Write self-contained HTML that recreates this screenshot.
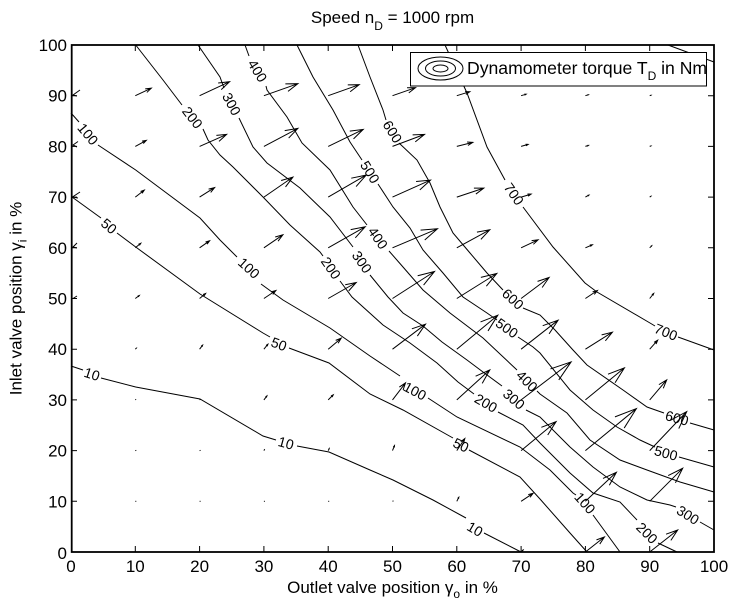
<!DOCTYPE html>
<html><head><meta charset="utf-8"><style>
html,body{margin:0;padding:0;background:#fff;}
svg{display:block;}
text{font-family:"Liberation Sans",Arial,sans-serif;fill:#000;}
</style></head><body>
<svg width="734" height="606" viewBox="0 0 734 606" xmlns="http://www.w3.org/2000/svg">
<rect x="0" y="0" width="734" height="606" fill="#fff"/>

<!-- Title -->
<text x="392.5" y="23" font-size="17" text-anchor="middle">Speed n<tspan font-size="12" dy="7">D</tspan><tspan dy="-7"> = 1000 rpm</tspan></text>

<!-- Contours -->
<g fill="none" stroke="#000" stroke-width="1">
<!-- 10 -->
<polyline points="71,366 83,370"/>
<polyline points="101,378 135.7,387 200,399 263,436 276,440"/>
<polyline points="297,446 329,452 370,470 393,480 433,500 466,518"/>
<polyline points="484,533 521,552"/>
<!-- 50 -->
<polyline points="72,197 101,218"/>
<polyline points="117,233 135.7,247 200,294 263,333 270,337"/>
<polyline points="289,348 329,363 370,394 403,410 453,438"/>
<polyline points="469,450 520,477 540,499 570,533 587,552"/>
<!-- 100 -->
<polyline points="71,113 79,122"/>
<polyline points="98,145 135.7,170 200,218 220,240 237,257"/>
<polyline points="261,284 283,300 330,328 370,356 400,376"/>
<polyline points="428,398 457,417 520,447 550,470 573,493 576,495"/>
<polyline points="593,515 620,552"/>
<!-- 200 -->
<polyline points="135.7,45 163,80 182,105"/>
<polyline points="203,129 208,140 220,155 233,167 263,197 290,225 320,252 323,256"/>
<polyline points="340,281 352,297 383,325 410,343 437,363 458,382 474,394"/>
<polyline points="498,412 523,425 540,443 570,473 593,493 620,502 637,520"/>
<polyline points="658,543 677,552"/>
<!-- 300 -->
<polyline points="198,45 220,77 224,88"/>
<polyline points="239,118 253,147 267,163 300,188 330,217 353,247"/>
<polyline points="370,275 388,297 403,313 423,326 442,342 467,360 483,372 502,386"/>
<polyline points="526,410 540,417 570,447 593,467 620,487 647,500 670,505 676,507"/>
<polyline points="700,522 714,530"/>
<!-- 400 -->
<polyline points="245,45 249,56"/>
<polyline points="266,86 267,90 287,117 302,143 330,170 353,207 367,225"/>
<polyline points="389,251 403,267 423,290 450,313 483,338 517,370"/>
<polyline points="537,391 540,394 567,413 590,440 620,460 647,470 680,482 714,492"/>
<!-- 500 -->
<polyline points="297,45 313,77 333,110 350,142 362,160"/>
<polyline points="378,184 393,207 410,228 423,250 443,273 463,297 487,313 497,320"/>
<polyline points="518,337 533,347 540,353 570,390 593,410 617,427 640,440 655,447"/>
<polyline points="679,457 714,467"/>
<!-- 600 -->
<polyline points="358,45 370,77 383,110 386,120"/>
<polyline points="399,143 417,160 430,183 440,207 453,233 470,253 487,273 503,290"/>
<polyline points="523,308 540,315 555,330 573,350 587,365 623,390 647,407 664,413"/>
<polyline points="690,423 714,430"/>
<!-- 700 -->
<polyline points="445,45 467,93 487,147 505,180"/>
<polyline points="523,207 553,247 585,283 597,292 650,323 655,326"/>
<polyline points="678,337 714,350"/>
<!-- 800 -->
<polyline points="668,45 714,62"/>
</g>

<!-- Contour labels -->
<g font-size="14" text-anchor="middle">
<text x="92" y="379" transform="rotate(18 92 374)">10</text>
<text x="286" y="448" transform="rotate(15 286 443)">10</text>
<text x="475" y="534" transform="rotate(30 475 529)">10</text>
<text x="109" y="231" transform="rotate(40 109 226)">50</text>
<text x="279" y="349" transform="rotate(20 279 344)">50</text>
<text x="461" y="450" transform="rotate(25 461 445)">50</text>
<text x="88" y="139" transform="rotate(50 88 134)">100</text>
<text x="249" y="273" transform="rotate(42 249 268)">100</text>
<text x="415" y="396" transform="rotate(28 415 391)">100</text>
<text x="585" y="508" transform="rotate(48 585 503)">100</text>
<text x="192.5" y="122.5" transform="rotate(52 192.5 117.5)">200</text>
<text x="331" y="273" transform="rotate(55 331 268)">200</text>
<text x="486" y="408" transform="rotate(30 486 403)">200</text>
<text x="647" y="538" transform="rotate(45 647 533)">200</text>
<text x="231.7" y="109" transform="rotate(62 231.7 104)">300</text>
<text x="362" y="267" transform="rotate(55 362 262)">300</text>
<text x="514" y="404" transform="rotate(40 514 399)">300</text>
<text x="688" y="520" transform="rotate(32 688 515)">300</text>
<text x="257.5" y="75.8" transform="rotate(58 257.5 70.8)">400</text>
<text x="378" y="243" transform="rotate(55 378 238)">400</text>
<text x="527" y="386" transform="rotate(45 527 381)">400</text>
<text x="370" y="177" transform="rotate(58 370 172)">500</text>
<text x="507" y="333" transform="rotate(35 507 328)">500</text>
<text x="666" y="458" transform="rotate(15 666 453)">500</text>
<text x="392.5" y="136.7" transform="rotate(58 392.5 131.7)">600</text>
<text x="513" y="304" transform="rotate(42 513 299)">600</text>
<text x="677" y="423" transform="rotate(15 677 418)">600</text>
<text x="514" y="199" transform="rotate(55 514 194)">700</text>
<text x="666" y="337" transform="rotate(22 666 332)">700</text>
</g>

<!-- Quiver arrows -->
<g fill="none" stroke="#000" stroke-width="1">
<path d="M80,90 L73,95 L77,96"/>
<path d="M78,141.5 L73,145 L77,147"/>
<path d="M80,192 L72.5,197 L78,198"/>
<path d="M77,243 L73,247 L77,248"/>
<path d="M77,296 L73,298.5"/>
</g>
<g fill="none" stroke="#000" stroke-width="1">
<!-- row 90 -->
<path vector-effect="non-scaling-stroke" transform="matrix(16 -7.5 7.5 16 135.3 95.7)" d="M0,0L1,0M0.67,-0.11L1,0L0.67,0.11"/>
<path vector-effect="non-scaling-stroke" transform="matrix(30 -14 14 30 199.6 95.7)" d="M0,0L1,0M0.67,-0.11L1,0L0.67,0.11"/>
<path vector-effect="non-scaling-stroke" transform="matrix(34 -12 12 34 263.9 95.7)" d="M0,0L1,0M0.67,-0.11L1,0L0.67,0.11"/>
<path vector-effect="non-scaling-stroke" transform="matrix(31 -11 11 31 328.2 95.7)" d="M0,0L1,0M0.67,-0.11L1,0L0.67,0.11"/>
<path vector-effect="non-scaling-stroke" transform="matrix(23 -8 8 23 392.5 95.7)" d="M0,0L1,0M0.67,-0.11L1,0L0.67,0.11"/>
<path vector-effect="non-scaling-stroke" transform="matrix(13 -4 4 13 456.8 95.7)" d="M0,0L1,0M0.67,-0.11L1,0L0.67,0.11"/>
<path vector-effect="non-scaling-stroke" transform="matrix(5 -1.5 1.5 5 521.1 95.7)" d="M0,0L1,0M0.67,-0.11L1,0L0.67,0.11"/>
<path vector-effect="non-scaling-stroke" transform="matrix(3 -1 1 3 585.4 95.7)" d="M0,0L1,0M0.67,-0.11L1,0L0.67,0.11"/>
<path vector-effect="non-scaling-stroke" transform="matrix(1.2 -0.4 0.4 1.2 649.7 95.7)" d="M0,0L1,0M0.67,-0.11L1,0L0.67,0.11"/>
<!-- row 80 -->
<path vector-effect="non-scaling-stroke" transform="matrix(11 -6 6 11 135.3 146.4)" d="M0,0L1,0M0.67,-0.11L1,0L0.67,0.11"/>
<path vector-effect="non-scaling-stroke" transform="matrix(27 -12 12 27 199.6 146.4)" d="M0,0L1,0M0.67,-0.11L1,0L0.67,0.11"/>
<path vector-effect="non-scaling-stroke" transform="matrix(34 -18 18 34 263.9 146.4)" d="M0,0L1,0M0.67,-0.11L1,0L0.67,0.11"/>
<path vector-effect="non-scaling-stroke" transform="matrix(35 -17 17 35 328.2 146.4)" d="M0,0L1,0M0.67,-0.11L1,0L0.67,0.11"/>
<path vector-effect="non-scaling-stroke" transform="matrix(32 -12 12 32 392.5 146.4)" d="M0,0L1,0M0.67,-0.11L1,0L0.67,0.11"/>
<path vector-effect="non-scaling-stroke" transform="matrix(16 -4 4 16 456.8 146.4)" d="M0,0L1,0M0.67,-0.11L1,0L0.67,0.11"/>
<path vector-effect="non-scaling-stroke" transform="matrix(7 -2 2 7 521.1 146.4)" d="M0,0L1,0M0.67,-0.11L1,0L0.67,0.11"/>
<path vector-effect="non-scaling-stroke" transform="matrix(3 -1 1 3 585.4 146.4)" d="M0,0L1,0M0.67,-0.11L1,0L0.67,0.11"/>
<path vector-effect="non-scaling-stroke" transform="matrix(1.2 -0.4 0.4 1.2 649.7 146.4)" d="M0,0L1,0M0.67,-0.11L1,0L0.67,0.11"/>
<!-- row 70 -->
<path vector-effect="non-scaling-stroke" transform="matrix(9 -7 7 9 135.3 197.1)" d="M0,0L1,0M0.67,-0.11L1,0L0.67,0.11"/>
<path vector-effect="non-scaling-stroke" transform="matrix(15 -9.5 9.5 15 199.6 197.1)" d="M0,0L1,0M0.67,-0.11L1,0L0.67,0.11"/>
<path vector-effect="non-scaling-stroke" transform="matrix(29 -20 20 29 263.9 197.1)" d="M0,0L1,0M0.67,-0.11L1,0L0.67,0.11"/>
<path vector-effect="non-scaling-stroke" transform="matrix(38 -22 22 38 328.2 197.1)" d="M0,0L1,0M0.67,-0.11L1,0L0.67,0.11"/>
<path vector-effect="non-scaling-stroke" transform="matrix(38 -17 17 38 392.5 197.1)" d="M0,0L1,0M0.67,-0.11L1,0L0.67,0.11"/>
<path vector-effect="non-scaling-stroke" transform="matrix(27 -9 9 27 456.8 197.1)" d="M0,0L1,0M0.67,-0.11L1,0L0.67,0.11"/>
<path vector-effect="non-scaling-stroke" transform="matrix(10 -3 3 10 521.1 197.1)" d="M0,0L1,0M0.67,-0.11L1,0L0.67,0.11"/>
<path vector-effect="non-scaling-stroke" transform="matrix(3.5 -2 2 3.5 585.4 197.1)" d="M0,0L1,0M0.67,-0.11L1,0L0.67,0.11"/>
<path vector-effect="non-scaling-stroke" transform="matrix(1.2 -0.8 0.8 1.2 649.7 197.1)" d="M0,0L1,0M0.67,-0.11L1,0L0.67,0.11"/>
<!-- row 60 -->
<path vector-effect="non-scaling-stroke" transform="matrix(5.5 -4.5 4.5 5.5 135.3 247.8)" d="M0,0L1,0M0.67,-0.11L1,0L0.67,0.11"/>
<path vector-effect="non-scaling-stroke" transform="matrix(10 -7 7 10 199.6 247.8)" d="M0,0L1,0M0.67,-0.11L1,0L0.67,0.11"/>
<path vector-effect="non-scaling-stroke" transform="matrix(19 -13 13 19 263.9 247.8)" d="M0,0L1,0M0.67,-0.11L1,0L0.67,0.11"/>
<path vector-effect="non-scaling-stroke" transform="matrix(37 -21 21 37 328.2 247.8)" d="M0,0L1,0M0.67,-0.11L1,0L0.67,0.11"/>
<path vector-effect="non-scaling-stroke" transform="matrix(45 -19 19 45 392.5 247.8)" d="M0,0L1,0M0.67,-0.11L1,0L0.67,0.11"/>
<path vector-effect="non-scaling-stroke" transform="matrix(33 -18 18 33 456.8 247.8)" d="M0,0L1,0M0.67,-0.11L1,0L0.67,0.11"/>
<path vector-effect="non-scaling-stroke" transform="matrix(17 -8 8 17 521.1 247.8)" d="M0,0L1,0M0.67,-0.11L1,0L0.67,0.11"/>
<path vector-effect="non-scaling-stroke" transform="matrix(7 -3 3 7 585.4 247.8)" d="M0,0L1,0M0.67,-0.11L1,0L0.67,0.11"/>
<path vector-effect="non-scaling-stroke" transform="matrix(2 -2 2 2 649.7 247.8)" d="M0,0L1,0M0.67,-0.11L1,0L0.67,0.11"/>
<!-- row 50 -->
<path vector-effect="non-scaling-stroke" transform="matrix(4 -3 3 4 135.3 298.5)" d="M0,0L1,0M0.67,-0.11L1,0L0.67,0.11"/>
<path vector-effect="non-scaling-stroke" transform="matrix(6 -5 5 6 199.6 298.5)" d="M0,0L1,0M0.67,-0.11L1,0L0.67,0.11"/>
<path vector-effect="non-scaling-stroke" transform="matrix(12 -8 8 12 263.9 298.5)" d="M0,0L1,0M0.67,-0.11L1,0L0.67,0.11"/>
<path vector-effect="non-scaling-stroke" transform="matrix(28 -16 16 28 328.2 298.5)" d="M0,0L1,0M0.67,-0.11L1,0L0.67,0.11"/>
<path vector-effect="non-scaling-stroke" transform="matrix(42 -27 27 42 392.5 298.5)" d="M0,0L1,0M0.67,-0.11L1,0L0.67,0.11"/>
<path vector-effect="non-scaling-stroke" transform="matrix(40 -25 25 40 456.8 298.5)" d="M0,0L1,0M0.67,-0.11L1,0L0.67,0.11"/>
<path vector-effect="non-scaling-stroke" transform="matrix(28 -21 21 28 521.1 298.5)" d="M0,0L1,0M0.67,-0.11L1,0L0.67,0.11"/>
<path vector-effect="non-scaling-stroke" transform="matrix(12 -8 8 12 585.4 298.5)" d="M0,0L1,0M0.67,-0.11L1,0L0.67,0.11"/>
<path vector-effect="non-scaling-stroke" transform="matrix(4 -5 5 4 649.7 298.5)" d="M0,0L1,0M0.67,-0.11L1,0L0.67,0.11"/>
<!-- row 40 -->
<path vector-effect="non-scaling-stroke" transform="matrix(1 -1 1 1 135.3 349.2)" d="M0,0L1,0M0.67,-0.11L1,0L0.67,0.11"/>
<path vector-effect="non-scaling-stroke" transform="matrix(3 -4 4 3 199.6 349.2)" d="M0,0L1,0M0.67,-0.11L1,0L0.67,0.11"/>
<path vector-effect="non-scaling-stroke" transform="matrix(4 -5 5 4 263.9 349.2)" d="M0,0L1,0M0.67,-0.11L1,0L0.67,0.11"/>
<path vector-effect="non-scaling-stroke" transform="matrix(13 -11 11 13 328.2 349.2)" d="M0,0L1,0M0.67,-0.11L1,0L0.67,0.11"/>
<path vector-effect="non-scaling-stroke" transform="matrix(33 -25 25 33 392.5 349.2)" d="M0,0L1,0M0.67,-0.11L1,0L0.67,0.11"/>
<path vector-effect="non-scaling-stroke" transform="matrix(41 -34 34 41 456.8 349.2)" d="M0,0L1,0M0.67,-0.11L1,0L0.67,0.11"/>
<path vector-effect="non-scaling-stroke" transform="matrix(37 -29 29 37 521.1 349.2)" d="M0,0L1,0M0.67,-0.11L1,0L0.67,0.11"/>
<path vector-effect="non-scaling-stroke" transform="matrix(27 -17 17 27 585.4 349.2)" d="M0,0L1,0M0.67,-0.11L1,0L0.67,0.11"/>
<path vector-effect="non-scaling-stroke" transform="matrix(8 -9 9 8 649.7 349.2)" d="M0,0L1,0M0.67,-0.11L1,0L0.67,0.11"/>
<!-- row 30 -->
<path vector-effect="non-scaling-stroke" transform="matrix(0.8 -0.6 0.6 0.8 135.3 399.9)" d="M0,0L1,0"/>
<path vector-effect="non-scaling-stroke" transform="matrix(0.8 -0.6 0.6 0.8 199.6 399.9)" d="M0,0L1,0"/>
<path vector-effect="non-scaling-stroke" transform="matrix(3 -4 4 3 263.9 399.9)" d="M0,0L1,0M0.67,-0.11L1,0L0.67,0.11"/>
<path vector-effect="non-scaling-stroke" transform="matrix(5 -5 5 5 328.2 399.9)" d="M0,0L1,0M0.67,-0.11L1,0L0.67,0.11"/>
<path vector-effect="non-scaling-stroke" transform="matrix(13 -17 17 13 392.5 399.9)" d="M0,0L1,0M0.67,-0.11L1,0L0.67,0.11"/>
<path vector-effect="non-scaling-stroke" transform="matrix(33 -30 30 33 456.8 399.9)" d="M0,0L1,0M0.67,-0.11L1,0L0.67,0.11"/>
<path vector-effect="non-scaling-stroke" transform="matrix(50 -38 38 50 521.1 399.9)" d="M0,0L1,0M0.67,-0.11L1,0L0.67,0.11"/>
<path vector-effect="non-scaling-stroke" transform="matrix(39 -32 32 39 585.4 399.9)" d="M0,0L1,0M0.67,-0.11L1,0L0.67,0.11"/>
<path vector-effect="non-scaling-stroke" transform="matrix(17 -20 20 17 649.7 399.9)" d="M0,0L1,0M0.67,-0.11L1,0L0.67,0.11"/>
<!-- row 20 -->
<path vector-effect="non-scaling-stroke" transform="matrix(1 -0.2 0.2 1 135.3 450.6)" d="M0,0L1,0"/>
<path vector-effect="non-scaling-stroke" transform="matrix(1 -0.3 0.3 1 199.6 450.6)" d="M0,0L1,0"/>
<path vector-effect="non-scaling-stroke" transform="matrix(0.8 -1.5 1.5 0.8 263.9 450.6)" d="M0,0L1,0"/>
<path vector-effect="non-scaling-stroke" transform="matrix(1 -2 2 1 328.2 450.6)" d="M0,0L1,0M0.67,-0.11L1,0L0.67,0.11"/>
<path vector-effect="non-scaling-stroke" transform="matrix(2 -5 5 2 392.5 450.6)" d="M0,0L1,0M0.67,-0.11L1,0L0.67,0.11"/>
<path vector-effect="non-scaling-stroke" transform="matrix(8 -12 12 8 456.8 450.6)" d="M0,0L1,0M0.67,-0.11L1,0L0.67,0.11"/>
<path vector-effect="non-scaling-stroke" transform="matrix(35 -29 29 35 521.1 450.6)" d="M0,0L1,0M0.67,-0.11L1,0L0.67,0.11"/>
<path vector-effect="non-scaling-stroke" transform="matrix(51 -42 42 51 585.4 450.6)" d="M0,0L1,0M0.67,-0.11L1,0L0.67,0.11"/>
<path vector-effect="non-scaling-stroke" transform="matrix(37 -39 39 37 649.7 450.6)" d="M0,0L1,0M0.67,-0.11L1,0L0.67,0.11"/>
<!-- row 10 -->
<path vector-effect="non-scaling-stroke" transform="matrix(1 0 0 1 135.3 501.3)" d="M0,0L1,0"/>
<path vector-effect="non-scaling-stroke" transform="matrix(1 0 0 1 199.6 501.3)" d="M0,0L1,0"/>
<path vector-effect="non-scaling-stroke" transform="matrix(1 0 0 1 263.9 501.3)" d="M0,0L1,0"/>
<path vector-effect="non-scaling-stroke" transform="matrix(1 0 0 1 328.2 501.3)" d="M0,0L1,0"/>
<path vector-effect="non-scaling-stroke" transform="matrix(1 -0.5 0.5 1 392.5 501.3)" d="M0,0L1,0"/>
<path vector-effect="non-scaling-stroke" transform="matrix(2 -4 4 2 456.8 501.3)" d="M0,0L1,0M0.67,-0.11L1,0L0.67,0.11"/>
<path vector-effect="non-scaling-stroke" transform="matrix(12 -8 8 12 521.1 501.3)" d="M0,0L1,0M0.67,-0.11L1,0L0.67,0.11"/>
<path vector-effect="non-scaling-stroke" transform="matrix(31 -29 29 31 585.4 501.3)" d="M0,0L1,0M0.67,-0.11L1,0L0.67,0.11"/>
<path vector-effect="non-scaling-stroke" transform="matrix(33 -33 33 33 649.7 501.3)" d="M0,0L1,0M0.67,-0.11L1,0L0.67,0.11"/>
<!-- row 0 -->
<path vector-effect="non-scaling-stroke" transform="matrix(2 -2 2 2 521.1 552)" d="M0,0L1,0M0.67,-0.11L1,0L0.67,0.11"/>
<path vector-effect="non-scaling-stroke" transform="matrix(19 -15 15 19 585.4 552)" d="M0,0L1,0M0.67,-0.11L1,0L0.67,0.11"/>
<path vector-effect="non-scaling-stroke" transform="matrix(28 -22 22 28 649.7 552)" d="M0,0L1,0M0.67,-0.11L1,0L0.67,0.11"/>
</g>

<!-- Axes box and ticks -->
<rect x="71.7" y="45" width="642.3" height="507" fill="none" stroke="#000" stroke-width="1.8"/>
<g fill="none" stroke="#000" stroke-width="1">
<path d="M135.3,552V546M199.6,552V546M263.9,552V546M328.2,552V546M392.5,552V546M456.8,552V546M521.1,552V546M585.4,552V546M649.7,552V546
M135.3,45V51M199.6,45V51M263.9,45V51M328.2,45V51M392.5,45V51M456.8,45V51M521.1,45V51M585.4,45V51M649.7,45V51
M71,95.7H77M71,146.4H77M71,197.1H77M71,247.8H77M71,298.5H77M71,349.2H77M71,399.9H77M71,450.6H77M71,501.3H77
M714,95.7H708M714,146.4H708M714,197.1H708M714,247.8H708M714,298.5H708M714,349.2H708M714,399.9H708M714,450.6H708M714,501.3H708"/>
</g>

<!-- Legend -->
<rect x="410.5" y="52.5" width="296" height="33.5" fill="#fff" stroke="#000" stroke-width="1"/>
<g fill="none" stroke="#000" stroke-width="1">
<ellipse cx="440.5" cy="68.5" rx="22.5" ry="11.5"/>
<ellipse cx="440.5" cy="68.5" rx="15" ry="7.5"/>
<ellipse cx="440.5" cy="68.5" rx="7.5" ry="3.5"/>
</g>
<text x="467" y="74" font-size="17.6">Dynamometer torque T<tspan font-size="12" dy="6">D</tspan><tspan dy="-6"> in Nm</tspan></text>

<!-- Tick labels -->
<g font-size="17" text-anchor="end">
<text x="67" y="51">100</text>
<text x="67" y="101.7">90</text>
<text x="67" y="152.4">80</text>
<text x="67" y="203.1">70</text>
<text x="67" y="253.8">60</text>
<text x="67" y="304.5">50</text>
<text x="67" y="355.2">40</text>
<text x="67" y="405.9">30</text>
<text x="67" y="456.6">20</text>
<text x="67" y="507.3">10</text>
<text x="67" y="559">0</text>
</g>
<g font-size="17" text-anchor="middle">
<text x="71" y="572">0</text>
<text x="135.3" y="572">10</text>
<text x="199.6" y="572">20</text>
<text x="263.9" y="572">30</text>
<text x="328.2" y="572">40</text>
<text x="392.5" y="572">50</text>
<text x="456.8" y="572">60</text>
<text x="521.1" y="572">70</text>
<text x="585.4" y="572">80</text>
<text x="649.7" y="572">90</text>
<text x="714" y="572">100</text>
</g>

<!-- Axis labels -->
<text x="392.5" y="593" font-size="17" text-anchor="middle">Outlet valve position γ<tspan font-size="12" dy="5">o</tspan><tspan dy="-5"> in %</tspan></text>
<text x="21.5" y="298.5" font-size="17" text-anchor="middle" transform="rotate(-90 21.5 298.5)">Inlet valve position γ<tspan font-size="12" dy="5">i</tspan><tspan dy="-5"> in %</tspan></text>
</svg>
</body></html>
